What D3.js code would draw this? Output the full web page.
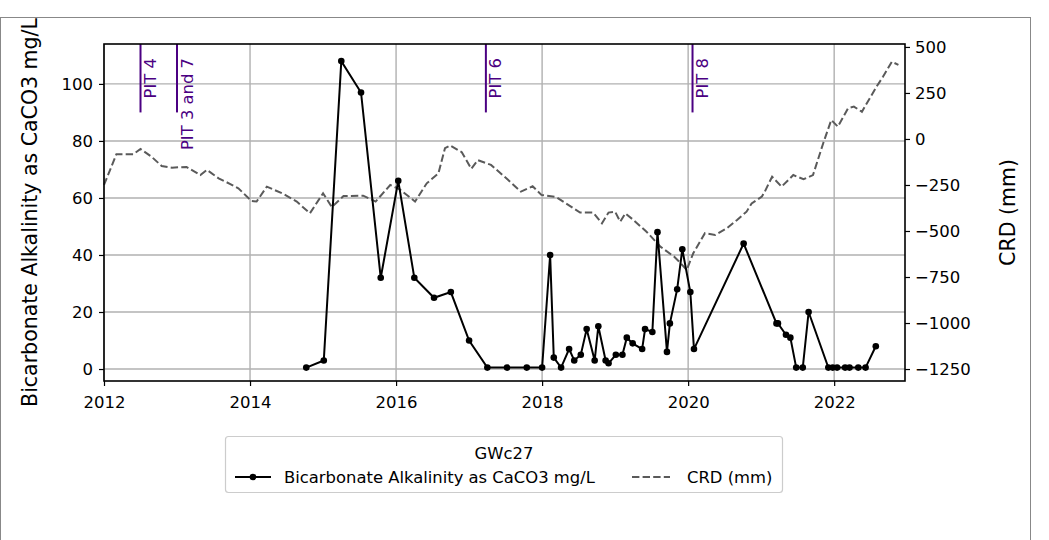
<!DOCTYPE html>
<html>
<head>
<meta charset="utf-8">
<script src="https://cdn.jsdelivr.net/npm/d3@7"></script>
<style>
  body { margin: 0; background: #fff; }
  svg { display: block; font-family: "DejaVu Sans", sans-serif; }
</style>
</head>
<body>
<svg id="chart" width="1049" height="540"></svg>
<script>
// ---------- data ----------
const bicarbDates = [2014.77, 2015.01, 2015.25, 2015.52, 2015.79, 2016.03, 2016.25, 2016.52, 2016.75, 2017.00,
  2017.25, 2017.52, 2017.79, 2018.00, 2018.11, 2018.16, 2018.26, 2018.37, 2018.44, 2018.53,
  2018.61, 2018.72, 2018.77, 2018.87, 2018.91, 2019.01, 2019.10, 2019.16, 2019.24, 2019.37,
  2019.41, 2019.51, 2019.58, 2019.71, 2019.75, 2019.85, 2019.92, 2020.03, 2020.08, 2020.76,
  2021.21, 2021.23, 2021.34, 2021.40, 2021.48, 2021.57, 2021.65, 2021.92, 2021.98, 2022.04,
  2022.15, 2022.21, 2022.33, 2022.43, 2022.57];
const bicarbValues = [0.5, 3, 108, 97, 32, 66, 32, 25, 27, 10,
  0.5, 0.5, 0.5, 0.5, 40, 4, 0.5, 7, 3, 5,
  14, 3, 15, 3, 2, 5, 5, 11, 9, 7,
  14, 13, 48, 6, 16, 28, 42, 27, 7, 44,
  16, 16, 12, 11, 0.5, 0.5, 20, 0.5, 0.5, 0.5,
  0.5, 0.5, 0.5, 0.5, 8];

const crdDates = [2012.00, 2012.17, 2012.40, 2012.50, 2012.65, 2012.79, 2012.93, 2013.13, 2013.32, 2013.41,
  2013.57, 2013.73, 2013.84, 2014.02, 2014.09, 2014.23, 2014.46, 2014.64, 2014.82, 2015.00,
  2015.12, 2015.28, 2015.55, 2015.72, 2015.92, 2016.05, 2016.26, 2016.42, 2016.58, 2016.67,
  2016.74, 2016.90, 2017.03, 2017.12, 2017.30, 2017.51, 2017.71, 2017.87, 2017.99, 2018.19,
  2018.52, 2018.70, 2018.82, 2018.91, 2019.00, 2019.07, 2019.14, 2019.25, 2019.43, 2019.62,
  2019.81, 2019.90, 2019.98, 2020.07, 2020.23, 2020.37, 2020.53, 2020.67, 2020.80, 2020.87,
  2021.01, 2021.05, 2021.15, 2021.28, 2021.44, 2021.58, 2021.71, 2021.85, 2021.96, 2022.05,
  2022.19, 2022.27, 2022.38, 2022.58, 2022.67, 2022.79, 2022.88];
const crdValues = [-250, -83, -83, -54, -96, -147, -156, -152, -196, -168,
  -214, -245, -268, -337, -340, -259, -299, -340, -404, -295,
  -370, -310, -308, -340, -250, -274, -340, -241, -187, -50,
  -35, -72, -162, -115, -141, -214, -286, -257, -304, -315,
  -400, -400, -458, -400, -395, -449, -404, -440, -504, -585,
  -640, -676, -712, -621, -512, -522, -485, -440, -395, -350,
  -313, -286, -205, -259, -196, -219, -196, -23, 103, 67,
  167, 176, 148, 284, 339, 420, 402];

const pitDates = [2012.5, 2013.0, 2017.23, 2020.06];
const pitLabels = ["PIT 4", "PIT 3 and 7", "PIT 6", "PIT 8"];

const xTicks = [2012, 2014, 2016, 2018, 2020, 2022];
const leftTicks = [0, 20, 40, 60, 80, 100];
const rightTicks = [-1250, -1000, -750, -500, -250, 0, 250, 500];

const legendTitle = "GWc27";
const seriesNames = ["Bicarbonate Alkalinity as CaCO3 mg/L", "CRD (mm)"];
const yLabelLeft = "Bicarbonate Alkalinity as CaCO3 mg/L";
const yLabelRight = "CRD (mm)";

// ---------- layout ----------
const L = 104, R = 905, T = 44, B = 381;
const tickFont = 16.5, labelFont = 20.5, legendFont = 16.4;

const svg = d3.select("#chart");

// figure border
svg.append("rect").attr("x", 0.5).attr("y", 17.5).attr("width", 1030).attr("height", 600)
  .attr("fill", "none").attr("stroke", "#888").attr("stroke-width", 1);

const x = d3.scaleLinear().domain([2012, 2022.97]).range([L, R]);
const yL = d3.scaleLinear().domain([-4.2, 114]).range([B, T]);
const yR = d3.scaleLinear().domain([-1315, 516]).range([B, T]);

// grid
const grid = svg.append("g");
grid.selectAll(".gx").data(xTicks).enter().append("line")
  .attr("x1", d => x(d)).attr("x2", d => x(d)).attr("y1", T).attr("y2", B)
  .attr("stroke", "#b0b0b0").attr("stroke-width", 1.4);
grid.selectAll(".gy").data(leftTicks).enter().append("line")
  .attr("x1", L).attr("x2", R).attr("y1", d => yL(d)).attr("y2", d => yL(d))
  .attr("stroke", "#b0b0b0").attr("stroke-width", 1.4);

// PIT lines
const pits = svg.append("g");
pitDates.forEach((d, i) => {
  pits.append("line").attr("x1", x(d)).attr("x2", x(d)).attr("y1", T).attr("y2", yL(90))
    .attr("stroke", "#4b0082").attr("stroke-width", 2);
  pits.append("text")
    .attr("transform", `translate(${x(d) + 15.5},${T + 14}) rotate(-90)`)
    .attr("text-anchor", "end")
    .attr("font-size", legendFont)
    .attr("fill", "#4b0082")
    .text(pitLabels[i]);
});

// CRD line
const crdData = crdDates.map((d, i) => [d, crdValues[i]]);
svg.append("path").datum(crdData)
  .attr("d", d3.line().x(d => x(d[0])).y(d => yR(d[1])))
  .attr("fill", "none").attr("stroke", "#5a5a5a").attr("stroke-width", 2)
  .attr("stroke-dasharray", "7.4,3.2");

// Bicarbonate line
const bData = bicarbDates.map((d, i) => [d, bicarbValues[i]]);
svg.append("path").datum(bData)
  .attr("d", d3.line().x(d => x(d[0])).y(d => yL(d[1])))
  .attr("fill", "none").attr("stroke", "#000").attr("stroke-width", 2);
svg.selectAll(".pt").data(bData).enter().append("circle")
  .attr("cx", d => x(d[0])).attr("cy", d => yL(d[1])).attr("r", 3.3).attr("fill", "#000");

// axes
const axFmt = d3.format("d");
const gx = svg.append("g").attr("transform", `translate(0,${B})`)
  .call(d3.axisBottom(x).tickValues(xTicks).tickFormat(axFmt).tickSize(5).tickPadding(10));
const gl = svg.append("g").attr("transform", `translate(${L},0)`)
  .call(d3.axisLeft(yL).tickValues(leftTicks).tickFormat(axFmt).tickSize(5).tickPadding(6));
const gr = svg.append("g").attr("transform", `translate(${R},0)`)
  .call(d3.axisRight(yR).tickValues(rightTicks).tickFormat(axFmt).tickSize(5).tickPadding(5));
[gx, gl, gr].forEach(g => {
  g.selectAll("text").attr("font-size", tickFont).attr("fill", "#000").attr("font-family", "DejaVu Sans");
  g.selectAll("line").attr("stroke", "#000").attr("stroke-width", 1.2);
  g.select(".domain").remove();
});

// frame
svg.append("rect").attr("x", L).attr("y", T).attr("width", R - L).attr("height", B - T)
  .attr("fill", "none").attr("stroke", "#000").attr("stroke-width", 1.6);

// axis labels
svg.append("text").attr("transform", `translate(37,${(T + B) / 2}) rotate(-90)`)
  .attr("text-anchor", "middle").attr("font-size", labelFont).text(yLabelLeft);
svg.append("text").attr("transform", `translate(1015,${(T + B) / 2}) rotate(-90)`)
  .attr("text-anchor", "middle").attr("font-size", labelFont).text(yLabelRight);

// legend
const lg = svg.append("g");
lg.append("rect").attr("x", 225.5).attr("y", 436.5).attr("width", 557).attr("height", 56)
  .attr("rx", 3).attr("fill", "#fff").attr("stroke", "#cccccc").attr("stroke-width", 1.2);
lg.append("text").attr("x", 504).attr("y", 459).attr("text-anchor", "middle")
  .attr("font-size", legendFont).text(legendTitle);
lg.append("line").attr("x1", 235).attr("x2", 271).attr("y1", 477).attr("y2", 477)
  .attr("stroke", "#000").attr("stroke-width", 2);
lg.append("circle").attr("cx", 253).attr("cy", 477).attr("r", 3.3).attr("fill", "#000");
lg.append("text").attr("x", 284).attr("y", 483).attr("font-size", legendFont).text(seriesNames[0]);
lg.append("line").attr("x1", 632).attr("x2", 670).attr("y1", 477).attr("y2", 477)
  .attr("stroke", "#5a5a5a").attr("stroke-width", 2).attr("stroke-dasharray", "7.4,3.2");
lg.append("text").attr("x", 687).attr("y", 483).attr("font-size", legendFont).text(seriesNames[1]);
</script>
</body>
</html>
